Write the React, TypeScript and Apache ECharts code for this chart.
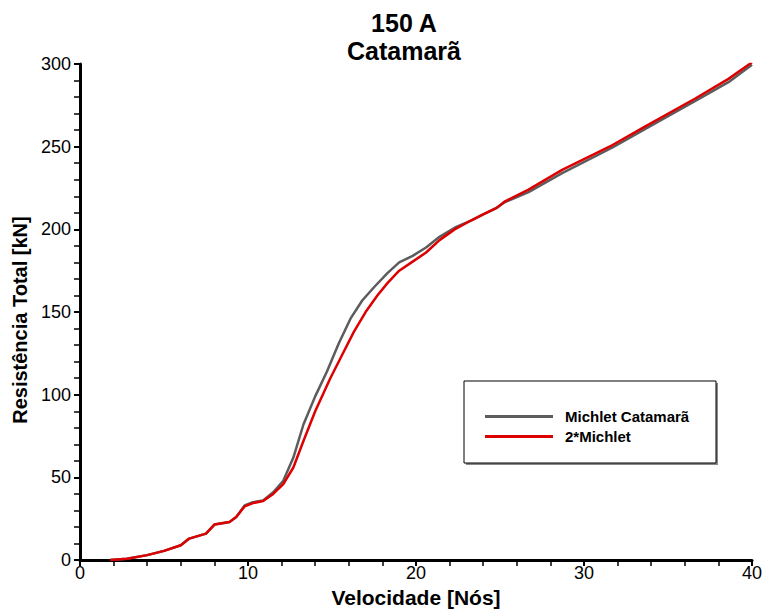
import React, { useEffect, useRef } from 'react';
import * as echarts from 'echarts';

const titleLines = ['150 A', 'Catamarã'];
const xAxisName = 'Velocidade [Nós]';
const yAxisName = 'Resistência Total [kN]';
const seriesNames = ['Michlet Catamarã', '2*Michlet'];

const grayVel = [1.8, 2.8, 4.0, 5.0, 6.0, 6.5, 7.5, 8.0, 8.9, 9.3, 9.8, 10.3, 10.9, 11.5, 12.1, 12.7, 13.3, 14.0, 14.7, 15.4, 16.1, 16.8, 17.5, 18.3, 19.0, 19.8, 20.6, 21.4, 22.3, 23.3, 24.0, 24.8, 25.3, 26.7, 28.7, 31.7, 33.6, 36.6, 38.6, 40.0];
const grayRes = [0, 0.8, 3, 5.6, 9, 13, 16, 21.5, 23, 26, 33, 35, 36, 41, 48, 62, 82, 99, 114, 131, 146, 157, 165, 173.5, 180, 184, 189, 195.5, 201, 205.5, 209, 213, 216.5, 222.5, 234, 249.5, 260.5, 277.5, 289, 299.5];

const redVel = [1.8, 2.8, 4.0, 5.0, 6.0, 6.5, 7.5, 8.0, 8.9, 9.3, 9.8, 10.3, 10.9, 11.5, 12.1, 12.7, 13.3, 14.0, 14.9, 15.6, 16.3, 17.0, 17.7, 18.3, 19.0, 19.8, 20.6, 21.4, 22.3, 23.3, 24.0, 24.8, 25.3, 26.7, 28.7, 31.7, 33.6, 36.6, 38.6, 40.0];
const redRes = [0, 0.8, 3, 5.6, 9, 13, 16, 21.5, 23, 26, 32.5, 34.5, 35.7, 40, 46, 56, 72, 90, 110, 124, 138, 150, 160, 167.5, 175, 180.5, 186, 193.5, 200, 205.5, 209, 213, 217, 224, 236, 251, 262, 279, 291, 301];

const seriesColors = ['#5c5c5c', '#dd0000'];

export default function App() {
  const ref = useRef<HTMLDivElement>(null);
  useEffect(() => {
    const chart = echarts.init(ref.current!, null, { renderer: 'svg' });
    const font = 'Liberation Sans, Arial, Helvetica, sans-serif';
    const axisCommon = {
      type: 'value',
      axisLine: { show: true, lineStyle: { color: '#000', width: 3 } },
      axisTick: { show: true, inside: false, length: 6, lineStyle: { color: '#000', width: 2 } },
      minorTick: { show: true, splitNumber: 5, length: 6, lineStyle: { color: '#000', width: 1.5 } },
      splitLine: { show: false },
      minorSplitLine: { show: false },
      nameLocation: 'middle',
    };
    chart.setOption({
      animation: false,
      backgroundColor: '#fff',
      grid: { left: 80, right: 11, top: 64, bottom: 46, containLabel: false },
      xAxis: {
        ...axisCommon,
        min: 0,
        max: 40,
        interval: 10,
        name: xAxisName,
        nameGap: 20,
        nameTextStyle: { color: '#000', fontSize: 21, fontWeight: 'bold', fontFamily: font },
        axisLabel: { color: '#000', fontSize: 18, margin: 4, fontFamily: font },
      },
      yAxis: {
        ...axisCommon,
        min: 0,
        max: 300,
        interval: 50,
        name: yAxisName,
        nameGap: 46,
        nameTextStyle: { color: '#000', fontSize: 20, fontWeight: 'bold', fontFamily: font, padding: [0, 16, 0, 0] },
        axisLabel: { color: '#000', fontSize: 18, margin: 9, fontFamily: font },
      },
      legend: {
        show: true,
        orient: 'vertical',
        left: 480,
        top: 404,
        icon: 'rect',
        itemWidth: 68,
        itemHeight: 3,
        itemGap: 5,
        data: seriesNames,
        textStyle: { color: '#000', fontSize: 15, fontWeight: 'bold', fontFamily: font, padding: [0, 0, 0, 7] },
      },
      graphic: [
        { type: 'rect', z: 0, shape: { x: 466, y: 383, width: 252, height: 82 }, style: { fill: '#888' } },
        { type: 'rect', z: 1, shape: { x: 464, y: 381, width: 252, height: 82 }, style: { fill: '#fff', stroke: '#000', lineWidth: 1 } },
        {
          type: 'text',
          z: 2,
          style: {
            text: titleLines[0],
            x: 404,
            y: 22.5,
            textAlign: 'center',
            textVerticalAlign: 'middle',
            verticalAlign: 'middle',
            fill: '#000',
            font: 'bold 25px ' + font,
          },
        },
        {
          type: 'text',
          z: 2,
          style: {
            text: titleLines[1],
            x: 404,
            y: 51,
            textAlign: 'center',
            textVerticalAlign: 'middle',
            verticalAlign: 'middle',
            fill: '#000',
            font: 'bold 25px ' + font,
          },
        },
      ],
      series: [
        {
          name: seriesNames[0],
          type: 'line',
          symbol: 'none',
          smooth: false,
          color: seriesColors[0],
          lineStyle: { color: seriesColors[0], width: 2.5 },
          data: grayVel.map((v, i) => [v, grayRes[i]]),
        },
        {
          name: seriesNames[1],
          type: 'line',
          symbol: 'none',
          smooth: false,
          color: seriesColors[1],
          lineStyle: { color: seriesColors[1], width: 2.5 },
          data: redVel.map((v, i) => [v, redRes[i]]),
        },
      ],
    });
    return () => chart.dispose();
  }, []);
  return <div ref={ref} style={{ position: 'fixed', left: 0, top: 0, width: 765, height: 613, background: '#fff' }} />;
}
